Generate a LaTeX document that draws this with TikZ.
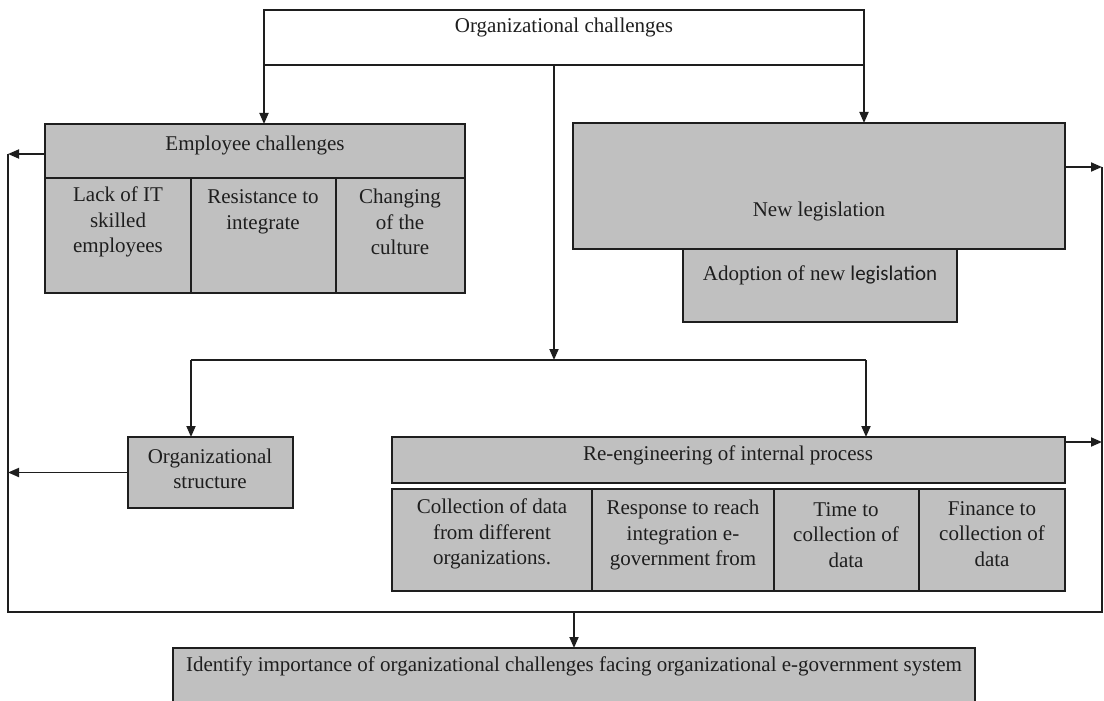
\documentclass[tikz,border=0pt]{standalone}
\usepackage{fontspec}
\setmainfont{Liberation Serif}
\newfontfamily\calfont{Carlito}
\usetikzlibrary{arrows.meta}
\definecolor{boxgray}{HTML}{C0C0C0}
\definecolor{ink}{HTML}{1E1E1E}
\begin{document}
\begin{tikzpicture}[x=1pt,y=-1pt,
  every node/.style={inner sep=0pt, outer sep=0pt},
  box/.style={draw=ink, line width=1.8pt, fill=boxgray, anchor=north west},
  wbox/.style={draw=ink, line width=1.8pt, fill=white, anchor=north west},
  lbl/.style={font=\fontsize{21}{25.5}\selectfont, text=ink, align=center},
  conn/.style={draw=ink, line width=1.8pt},
  arr/.style={conn, -{Triangle[length=11pt,width=9pt]}}]
\useasboundingbox (0,0) rectangle (1104,701);

% boxes
\node[wbox, minimum width=600pt, minimum height=55pt] (top) at (264,10) {};
\node[box, minimum width=420pt, minimum height=54pt] (emphead) at (45,124) {};
\node[box, minimum width=146pt, minimum height=115pt] (e1) at (45,178) {};
\node[box, minimum width=145pt, minimum height=115pt] (e2) at (191,178) {};
\node[box, minimum width=129pt, minimum height=115pt] (e3) at (336,178) {};
\node[box, minimum width=492pt, minimum height=126pt] (newleg) at (573,123) {};
\node[box, minimum width=274pt, minimum height=73pt] (adopt) at (683,249) {};
\node[box, minimum width=165pt, minimum height=71pt] (org) at (128,437) {};
\node[box, minimum width=673pt, minimum height=46pt] (reeng) at (392,437) {};
\node[box, minimum width=200pt, minimum height=102pt] (r1) at (392,489) {};
\node[box, minimum width=182pt, minimum height=102pt] (r2) at (592,489) {};
\node[box, minimum width=145pt, minimum height=102pt] (r3) at (774,489) {};
\node[box, minimum width=146pt, minimum height=102pt] (r4) at (919,489) {};
\node[box, minimum width=802pt, minimum height=80pt] (final) at (173,648) {};

% texts
\node[lbl] (ttop) at (564,27) {Organizational challenges};
\node[lbl] (temp) at (255,145) {Employee challenges};
\node[lbl] (te1) at (118,222) {Lack of IT\\skilled\\employees};
\node[lbl] (te2) at (263,212) {Resistance to\\integrate};
\node[lbl] (te3) at (400,222) {Changing\\of the\\culture};
\node[lbl] (tnl) at (819,211) {New legislation};
\node[lbl] (tad) at (820,275) {Adoption of new {\calfont legislation}};
\node[lbl] (torg) at (210,469) {Organizational\\structure};
\node[lbl] (tre) at (728,455) {Re-engineering of internal process};
\node[lbl] (tr1) at (492,534) {Collection of data\\from different\\organizations.};
\node[lbl] (tr2) at (683,535) {Response to reach\\integration e-\\government from};
\node[lbl] (tr3) at (846,535) {Time to\\collection of\\data};
\node[lbl] (tr4) at (992,534) {Finance to\\collection of\\data};
\node[lbl] (tfin) at (574,666) {Identify importance of organizational challenges facing organizational e-government system};

% connector coordinates
\coordinate (split) at (554,360);
\coordinate (lt) at (191,360);
\coordinate (rt) at (866,360);
\coordinate (lu) at (8,154);
\coordinate (ll) at (8,612);
\coordinate (rl) at (1102,612);
\coordinate (ru) at (1102,167);
\coordinate (ra) at (1102,442);
\coordinate (fd) at (574,612);

% connectors
\draw[arr] (top.south west) -- (top.south west |- emphead.north);
\draw[arr] (top.south east) -- (top.south east |- newleg.north);
\draw[arr] (top.south -| split) -- (split);
\draw[conn] (lt) -- (rt);
\draw[arr] (lt) -- (lt |- org.north);
\draw[arr] (rt) -- (rt |- reeng.north);
\draw[conn] (lu) -- (ll) -- (rl) -- (ru);
\draw[arr] (emphead.west |- lu) -- (lu);
\draw[arr] (org.west) -- (org.west -| lu);
\draw[arr] (newleg.east |- ru) -- (ru);
\draw[arr] (reeng.east |- ra) -- (ra);
\draw[arr] (fd) -- (fd |- final.north);
\end{tikzpicture}
\end{document}
